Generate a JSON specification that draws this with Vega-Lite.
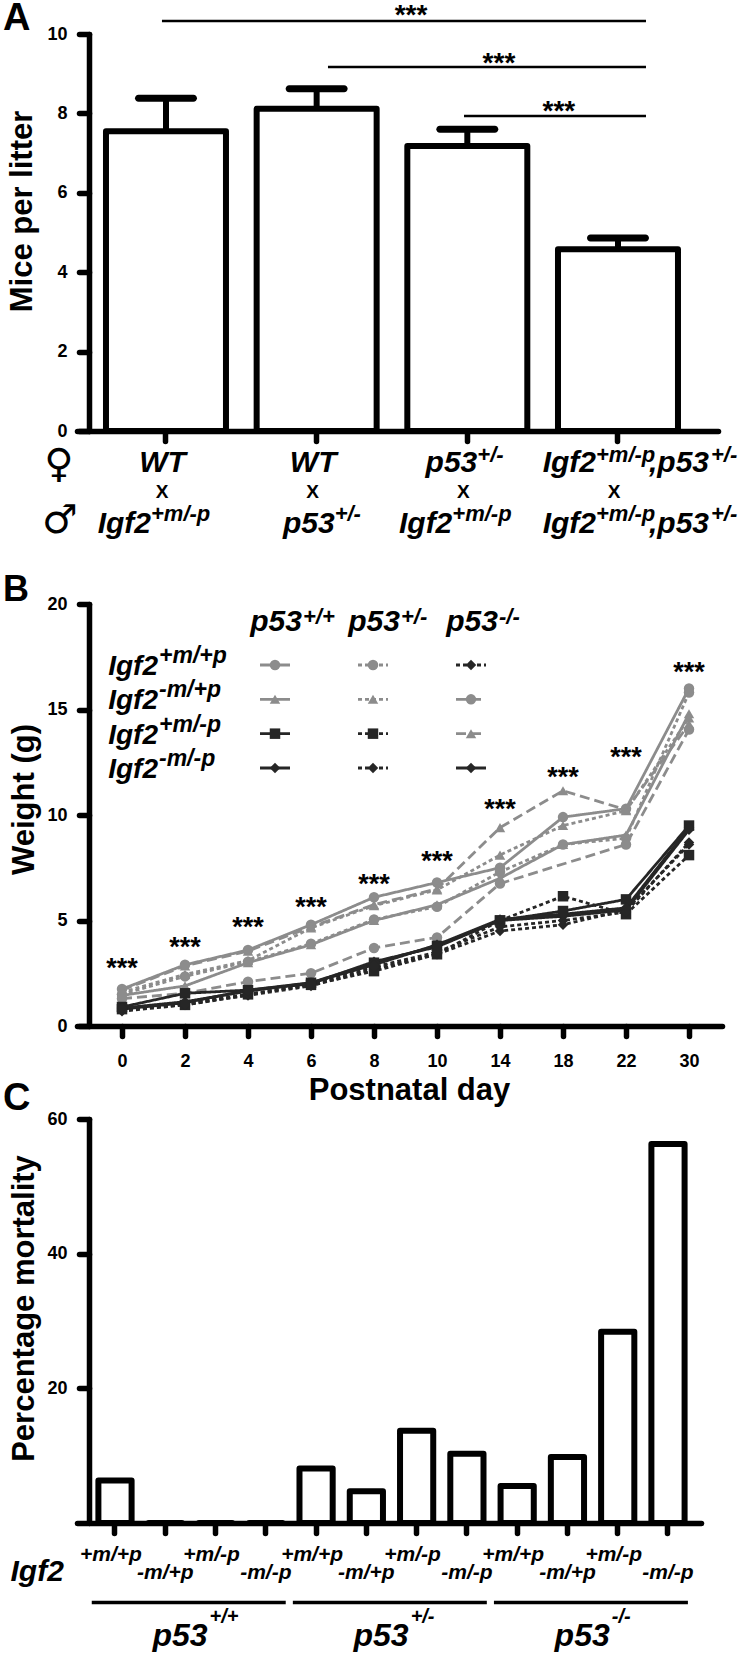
{
"$schema": "https://vega.github.io/schema/vega-lite/v6.json",
"padding": {"left": 2, "top": 0, "right": 0, "bottom": 0},
"bounds": "flush",
"spacing": 173,
"config": {
 "font": "Liberation Sans",
 "view": {"stroke": null},
 "mark": {"color": "black"},
 "text": {"color": "black", "font": "Liberation Sans", "baseline": "alphabetic"},
 "axis": {"domainColor": "black", "domainWidth": 5.5, "domainCap": "round", "tickColor": "black", "tickWidth": 5.5, "tickCap": "round", "tickSize": 10, "labelFont": "Liberation Sans", "labelFontWeight": "bold", "labelFontSize": 18, "labelColor": "black", "labelPadding": 12, "titleFont": "Liberation Sans", "titleFontWeight": "bold", "titleFontSize": 31, "titleColor": "black", "grid": false}
},
"datasets": {
 "litter": [
  {"cross": "WT x Igf2+m/-p", "mean": 7.55, "upper": 8.38},
  {"cross": "WT x p53+/-", "mean": 8.12, "upper": 8.62},
  {"cross": "p53+/- x Igf2+m/-p", "mean": 7.18, "upper": 7.6},
  {"cross": "Igf2+m/-p,p53+/- x Igf2+m/-p,p53+/-", "mean": 4.58, "upper": 4.86}
 ],
 "sig": [
  {"x1": 0.973, "x2": 4.186, "y": 10.33, "sx": 2.626, "sy": 10.655, "label": "***"},
  {"x1": 2.075, "x2": 4.186, "y": 9.17, "sx": 3.21, "sy": 9.446, "label": "***"},
  {"x1": 2.978, "x2": 4.186, "y": 7.935, "sx": 3.608, "sy": 8.237, "label": "***"}
 ],
 "alab": [
  {"cross": "WT x Igf2+m/-p", "role": "fc", "text": "WT"},
  {"cross": "WT x p53+/-", "role": "fc", "text": "WT"},
  {"cross": "p53+/- x Igf2+m/-p", "role": "fpb", "text": "p53"},
  {"cross": "p53+/- x Igf2+m/-p", "role": "fps", "text": "+/-"},
  {"cross": "Igf2+m/-p,p53+/- x Igf2+m/-p,p53+/-", "role": "f4b", "text": "Igf2"},
  {"cross": "Igf2+m/-p,p53+/- x Igf2+m/-p,p53+/-", "role": "f4s", "text": "+m/-p"},
  {"cross": "Igf2+m/-p,p53+/- x Igf2+m/-p,p53+/-", "role": "f4t", "text": ",p53"},
  {"cross": "Igf2+m/-p,p53+/- x Igf2+m/-p,p53+/-", "role": "f4u", "text": "+/-"},
  {"cross": "WT x Igf2+m/-p", "role": "mib", "text": "Igf2"},
  {"cross": "p53+/- x Igf2+m/-p", "role": "mib", "text": "Igf2"},
  {"cross": "WT x Igf2+m/-p", "role": "mis", "text": "+m/-p"},
  {"cross": "p53+/- x Igf2+m/-p", "role": "mis", "text": "+m/-p"},
  {"cross": "WT x p53+/-", "role": "mpb", "text": "p53"},
  {"cross": "WT x p53+/-", "role": "mps", "text": "+/-"},
  {"cross": "Igf2+m/-p,p53+/- x Igf2+m/-p,p53+/-", "role": "m4b", "text": "Igf2"},
  {"cross": "Igf2+m/-p,p53+/- x Igf2+m/-p,p53+/-", "role": "m4s", "text": "+m/-p"},
  {"cross": "Igf2+m/-p,p53+/- x Igf2+m/-p,p53+/-", "role": "m4t", "text": ",p53"},
  {"cross": "Igf2+m/-p,p53+/- x Igf2+m/-p,p53+/-", "role": "m4u", "text": "+/-"},
  {"cross": "WT x Igf2+m/-p", "role": "x", "text": "X"},
  {"cross": "WT x p53+/-", "role": "x", "text": "X"},
  {"cross": "p53+/- x Igf2+m/-p", "role": "x", "text": "X"},
  {"cross": "Igf2+m/-p,p53+/- x Igf2+m/-p,p53+/-", "role": "x", "text": "X"},
  {"cross": "WT x Igf2+m/-p", "role": "sf", "text": "♀"},
  {"cross": "WT x Igf2+m/-p", "role": "sm", "text": "♂"},
  {"cross": "WT x Igf2+m/-p", "role": "letter", "text": "A"}
 ],
 "weights": [
  {"s":"+/+ +m/+p","day":0,"w":1.75},{"s":"+/+ +m/+p","day":2,"w":2.9},{"s":"+/+ +m/+p","day":4,"w":3.6},{"s":"+/+ +m/+p","day":6,"w":4.8},{"s":"+/+ +m/+p","day":8,"w":6.1},{"s":"+/+ +m/+p","day":10,"w":6.8},{"s":"+/+ +m/+p","day":14,"w":7.5},{"s":"+/+ +m/+p","day":18,"w":9.9},{"s":"+/+ +m/+p","day":22,"w":10.3},{"s":"+/+ +m/+p","day":30,"w":16.0},
  {"s":"+/+ -m/+p","day":0,"w":1.45},{"s":"+/+ -m/+p","day":2,"w":1.9},{"s":"+/+ -m/+p","day":4,"w":3.0},{"s":"+/+ -m/+p","day":6,"w":3.85},{"s":"+/+ -m/+p","day":8,"w":5.0},{"s":"+/+ -m/+p","day":10,"w":5.75},{"s":"+/+ -m/+p","day":14,"w":7.0},{"s":"+/+ -m/+p","day":18,"w":8.6},{"s":"+/+ -m/+p","day":22,"w":9.05},{"s":"+/+ -m/+p","day":30,"w":14.8},
  {"s":"+/- +m/+p","day":0,"w":1.5},{"s":"+/- +m/+p","day":2,"w":2.35},{"s":"+/- +m/+p","day":4,"w":3.05},{"s":"+/- +m/+p","day":6,"w":3.9},{"s":"+/- +m/+p","day":8,"w":5.05},{"s":"+/- +m/+p","day":10,"w":5.65},{"s":"+/- +m/+p","day":14,"w":7.3},{"s":"+/- +m/+p","day":18,"w":8.6},{"s":"+/- +m/+p","day":22,"w":8.9},{"s":"+/- +m/+p","day":30,"w":15.8},
  {"s":"+/- -m/+p","day":0,"w":1.6},{"s":"+/- -m/+p","day":2,"w":2.45},{"s":"+/- -m/+p","day":4,"w":3.1},{"s":"+/- -m/+p","day":6,"w":4.65},{"s":"+/- -m/+p","day":8,"w":5.7},{"s":"+/- -m/+p","day":10,"w":6.45},{"s":"+/- -m/+p","day":14,"w":8.1},{"s":"+/- -m/+p","day":18,"w":9.5},{"s":"+/- -m/+p","day":22,"w":10.2},{"s":"+/- -m/+p","day":30,"w":14.6},
  {"s":"-/- -m/+p","day":0,"w":1.3},{"s":"-/- -m/+p","day":2,"w":1.55},{"s":"-/- -m/+p","day":4,"w":2.1},{"s":"-/- -m/+p","day":6,"w":2.5},{"s":"-/- -m/+p","day":8,"w":3.7},{"s":"-/- -m/+p","day":10,"w":4.2},{"s":"-/- -m/+p","day":14,"w":6.75},{"s":"-/- -m/+p","day":22,"w":8.6},{"s":"-/- -m/+p","day":30,"w":14.05},
  {"s":"-/- +m/-p","day":0,"w":1.7},{"s":"-/- +m/-p","day":2,"w":2.85},{"s":"-/- +m/-p","day":4,"w":3.55},{"s":"-/- +m/-p","day":6,"w":4.7},{"s":"-/- +m/-p","day":8,"w":5.75},{"s":"-/- +m/-p","day":10,"w":6.5},{"s":"-/- +m/-p","day":14,"w":9.4},{"s":"-/- +m/-p","day":18,"w":11.15},{"s":"-/- +m/-p","day":22,"w":10.25},{"s":"-/- +m/-p","day":30,"w":14.3},
  {"s":"+/+ +m/-p","day":0,"w":0.9},{"s":"+/+ +m/-p","day":2,"w":1.55},{"s":"+/+ +m/-p","day":4,"w":1.7},{"s":"+/+ +m/-p","day":6,"w":2.05},{"s":"+/+ +m/-p","day":8,"w":3.0},{"s":"+/+ +m/-p","day":10,"w":3.8},{"s":"+/+ +m/-p","day":14,"w":5.0},{"s":"+/+ +m/-p","day":18,"w":5.45},{"s":"+/+ +m/-p","day":22,"w":6.0},{"s":"+/+ +m/-p","day":30,"w":9.5},
  {"s":"+/+ -m/-p","day":0,"w":0.8},{"s":"+/+ -m/-p","day":2,"w":1.1},{"s":"+/+ -m/-p","day":4,"w":1.7},{"s":"+/+ -m/-p","day":6,"w":2.0},{"s":"+/+ -m/-p","day":8,"w":3.05},{"s":"+/+ -m/-p","day":10,"w":3.75},{"s":"+/+ -m/-p","day":14,"w":5.0},{"s":"+/+ -m/-p","day":18,"w":5.2},{"s":"+/+ -m/-p","day":22,"w":5.5},{"s":"+/+ -m/-p","day":30,"w":9.3},
  {"s":"+/- +m/-p","day":0,"w":0.8},{"s":"+/- +m/-p","day":2,"w":1.0},{"s":"+/- +m/-p","day":4,"w":1.5},{"s":"+/- +m/-p","day":6,"w":1.95},{"s":"+/- +m/-p","day":8,"w":2.6},{"s":"+/- +m/-p","day":10,"w":3.4},{"s":"+/- +m/-p","day":14,"w":5.0},{"s":"+/- +m/-p","day":18,"w":6.15},{"s":"+/- +m/-p","day":22,"w":5.3},{"s":"+/- +m/-p","day":30,"w":8.1},
  {"s":"+/- -m/-p","day":0,"w":0.7},{"s":"+/- -m/-p","day":2,"w":1.0},{"s":"+/- -m/-p","day":4,"w":1.45},{"s":"+/- -m/-p","day":6,"w":1.9},{"s":"+/- -m/-p","day":8,"w":2.7},{"s":"+/- -m/-p","day":10,"w":3.4},{"s":"+/- -m/-p","day":14,"w":4.5},{"s":"+/- -m/-p","day":18,"w":4.8},{"s":"+/- -m/-p","day":22,"w":5.5},{"s":"+/- -m/-p","day":30,"w":8.6},
  {"s":"-/- +m/+p","day":0,"w":0.75},{"s":"-/- +m/+p","day":2,"w":1.05},{"s":"-/- +m/+p","day":4,"w":1.5},{"s":"-/- +m/+p","day":6,"w":2.0},{"s":"-/- +m/+p","day":8,"w":2.8},{"s":"-/- +m/+p","day":10,"w":3.5},{"s":"-/- +m/+p","day":14,"w":4.7},{"s":"-/- +m/+p","day":18,"w":5.0},{"s":"-/- +m/+p","day":22,"w":5.4},{"s":"-/- +m/+p","day":30,"w":8.7},
  {"s":"-/- -m/-p","day":0,"w":0.85},{"s":"-/- -m/-p","day":2,"w":1.15},{"s":"-/- -m/-p","day":4,"w":1.65},{"s":"-/- -m/-p","day":6,"w":2.05},{"s":"-/- -m/-p","day":8,"w":2.9},{"s":"-/- -m/-p","day":10,"w":3.85},{"s":"-/- -m/-p","day":14,"w":5.05},{"s":"-/- -m/-p","day":18,"w":5.3},{"s":"-/- -m/-p","day":22,"w":5.6},{"s":"-/- -m/-p","day":30,"w":9.4}
 ],
 "bstars": [
  {"day": 0, "y": 3.03, "label": "***"}, {"day": 2, "y": 4.01, "label": "***"}, {"day": 4, "y": 4.96, "label": "***"}, {"day": 6, "y": 5.94, "label": "***"}, {"day": 8, "y": 7.01, "label": "***"},
  {"day": 10, "y": 8.12, "label": "***"}, {"day": 14, "y": 10.57, "label": "***"}, {"day": 18, "y": 12.07, "label": "***"}, {"day": 22, "y": 13.05, "label": "***"}, {"day": 30, "y": 17.05, "label": "***"}
 ],
 "leg": [
  {"s":"+/+ +m/+p","p53":"+/+","igf2":"+m/+p"},{"s":"+/+ -m/+p","p53":"+/+","igf2":"-m/+p"},{"s":"+/+ +m/-p","p53":"+/+","igf2":"+m/-p"},{"s":"+/+ -m/-p","p53":"+/+","igf2":"-m/-p"},
  {"s":"+/- +m/+p","p53":"+/-","igf2":"+m/+p"},{"s":"+/- -m/+p","p53":"+/-","igf2":"-m/+p"},{"s":"+/- +m/-p","p53":"+/-","igf2":"+m/-p"},{"s":"+/- -m/-p","p53":"+/-","igf2":"-m/-p"},
  {"s":"-/- +m/+p","p53":"-/-","igf2":"+m/+p"},{"s":"-/- -m/+p","p53":"-/-","igf2":"-m/+p"},{"s":"-/- +m/-p","p53":"-/-","igf2":"+m/-p"},{"s":"-/- -m/-p","p53":"-/-","igf2":"-m/-p"}
 ],
 "mort": [
  {"bar":"p53+/+ Igf2+m/+p","p53":"+/+","igf2":"+m/+p","pct":6.3},
  {"bar":"p53+/+ Igf2-m/+p","p53":"+/+","igf2":"-m/+p","pct":0},
  {"bar":"p53+/+ Igf2+m/-p","p53":"+/+","igf2":"+m/-p","pct":0},
  {"bar":"p53+/+ Igf2-m/-p","p53":"+/+","igf2":"-m/-p","pct":0},
  {"bar":"p53+/- Igf2+m/+p","p53":"+/-","igf2":"+m/+p","pct":8.1},
  {"bar":"p53+/- Igf2-m/+p","p53":"+/-","igf2":"-m/+p","pct":4.7},
  {"bar":"p53+/- Igf2+m/-p","p53":"+/-","igf2":"+m/-p","pct":13.7},
  {"bar":"p53+/- Igf2-m/-p","p53":"+/-","igf2":"-m/-p","pct":10.3},
  {"bar":"p53-/- Igf2+m/+p","p53":"-/-","igf2":"+m/+p","pct":5.5},
  {"bar":"p53-/- Igf2-m/+p","p53":"-/-","igf2":"-m/+p","pct":9.8},
  {"bar":"p53-/- Igf2+m/-p","p53":"-/-","igf2":"+m/-p","pct":28.4},
  {"bar":"p53-/- Igf2-m/-p","p53":"-/-","igf2":"-m/-p","pct":56.3}
 ],
 "groups": [
  {"first":"p53+/+ Igf2+m/+p","last":"p53+/+ Igf2-m/-p","mid":"p53+/+ Igf2+m/-p","p53":"+/+"},
  {"first":"p53+/- Igf2+m/+p","last":"p53+/- Igf2-m/-p","mid":"p53+/- Igf2+m/-p","p53":"+/-"},
  {"first":"p53-/- Igf2+m/+p","last":"p53-/- Igf2-m/-p","mid":"p53-/- Igf2+m/-p","p53":"-/-"}
 ]
},
"vconcat": [
{
 "width": 641, "height": 397,
 "layer": [
  {
   "layer": [
    {"data": {"name": "litter"},
     "mark": {"type": "bar", "fill": "white", "stroke": "black", "strokeWidth": 6, "strokeJoin": "round"},
     "encoding": {
      "x": {"field": "cross", "type": "nominal", "sort": null,
            "scale": {"domain": ["WT x Igf2+m/-p", "WT x p53+/-", "p53+/- x Igf2+m/-p", "Igf2+m/-p,p53+/- x Igf2+m/-p,p53+/-"], "paddingInner": 0.2036, "paddingOuter": 0.229, "align": 0.42},
            "axis": {"labels": false, "title": null}},
      "y": {"field": "mean", "type": "quantitative", "scale": {"domain": [0, 10], "nice": false},
            "axis": {"values": [0, 2, 4, 6, 8, 10], "title": "Mice per litter", "offset": -12, "titleX": -67, "titleY": 177, "titleBaseline": "middle"}}
     }},
    {"data": {"name": "litter"}, "mark": {"type": "rule", "strokeWidth": 6, "color": "black"},
     "encoding": {"x": {"field": "cross", "type": "nominal"}, "y": {"field": "mean", "type": "quantitative"}, "y2": {"field": "upper"}}},
    {"data": {"name": "litter"}, "mark": {"type": "tick", "orient": "horizontal", "size": 62, "thickness": 7, "cornerRadius": 3.5, "color": "black", "opacity": 1},
     "encoding": {"x": {"field": "cross", "type": "nominal"}, "y": {"field": "upper", "type": "quantitative"}}},
    {"data": {"name": "alab"}, "transform": [{"filter": "datum.role === 'fc'"}],
     "mark": {"type": "text", "align": "center", "dx": -3.5, "dy": 41, "fontSize": 30, "fontWeight": "bold", "fontStyle": "italic"},
     "encoding": {"x": {"field": "cross", "type": "nominal"}, "y": {"datum": 0}, "text": {"field": "text"}}},
    {"data": {"name": "alab"}, "transform": [{"filter": "datum.role === 'fpb'"}],
     "mark": {"type": "text", "align": "right", "dx": 10, "dy": 41, "fontSize": 30, "fontWeight": "bold", "fontStyle": "italic"},
     "encoding": {"x": {"field": "cross", "type": "nominal"}, "y": {"datum": 0}, "text": {"field": "text"}}},
    {"data": {"name": "alab"}, "transform": [{"filter": "datum.role === 'fps'"}],
     "mark": {"type": "text", "align": "left", "dx": 10, "dy": 31, "fontSize": 22, "fontWeight": "bold", "fontStyle": "italic"},
     "encoding": {"x": {"field": "cross", "type": "nominal"}, "y": {"datum": 0}, "text": {"field": "text"}}},
    {"data": {"name": "alab"}, "transform": [{"filter": "datum.role === 'f4b'"}],
     "mark": {"type": "text", "align": "right", "dx": -22, "dy": 41, "fontSize": 30, "fontWeight": "bold", "fontStyle": "italic"},
     "encoding": {"x": {"field": "cross", "type": "nominal"}, "y": {"datum": 0}, "text": {"field": "text"}}},
    {"data": {"name": "alab"}, "transform": [{"filter": "datum.role === 'f4s'"}],
     "mark": {"type": "text", "align": "left", "dx": -22, "dy": 31, "fontSize": 22, "fontWeight": "bold", "fontStyle": "italic"},
     "encoding": {"x": {"field": "cross", "type": "nominal"}, "y": {"datum": 0}, "text": {"field": "text"}}},
    {"data": {"name": "alab"}, "transform": [{"filter": "datum.role === 'f4t'"}],
     "mark": {"type": "text", "align": "left", "dx": 31, "dy": 41, "fontSize": 30, "fontWeight": "bold", "fontStyle": "italic"},
     "encoding": {"x": {"field": "cross", "type": "nominal"}, "y": {"datum": 0}, "text": {"field": "text"}}},
    {"data": {"name": "alab"}, "transform": [{"filter": "datum.role === 'f4u'"}],
     "mark": {"type": "text", "align": "left", "dx": 93, "dy": 31, "fontSize": 22, "fontWeight": "bold", "fontStyle": "italic"},
     "encoding": {"x": {"field": "cross", "type": "nominal"}, "y": {"datum": 0}, "text": {"field": "text"}}},
    {"data": {"name": "alab"}, "transform": [{"filter": "datum.role === 'mib'"}],
     "mark": {"type": "text", "align": "right", "dx": -15, "dy": 102, "fontSize": 30, "fontWeight": "bold", "fontStyle": "italic"},
     "encoding": {"x": {"field": "cross", "type": "nominal"}, "y": {"datum": 0}, "text": {"field": "text"}}},
    {"data": {"name": "alab"}, "transform": [{"filter": "datum.role === 'mis'"}],
     "mark": {"type": "text", "align": "left", "dx": -15, "dy": 90, "fontSize": 22, "fontWeight": "bold", "fontStyle": "italic"},
     "encoding": {"x": {"field": "cross", "type": "nominal"}, "y": {"datum": 0}, "text": {"field": "text"}}},
    {"data": {"name": "alab"}, "transform": [{"filter": "datum.role === 'mpb'"}],
     "mark": {"type": "text", "align": "right", "dx": 18, "dy": 102, "fontSize": 30, "fontWeight": "bold", "fontStyle": "italic"},
     "encoding": {"x": {"field": "cross", "type": "nominal"}, "y": {"datum": 0}, "text": {"field": "text"}}},
    {"data": {"name": "alab"}, "transform": [{"filter": "datum.role === 'mps'"}],
     "mark": {"type": "text", "align": "left", "dx": 18, "dy": 90, "fontSize": 22, "fontWeight": "bold", "fontStyle": "italic"},
     "encoding": {"x": {"field": "cross", "type": "nominal"}, "y": {"datum": 0}, "text": {"field": "text"}}},
    {"data": {"name": "alab"}, "transform": [{"filter": "datum.role === 'm4b'"}],
     "mark": {"type": "text", "align": "right", "dx": -22, "dy": 102, "fontSize": 30, "fontWeight": "bold", "fontStyle": "italic"},
     "encoding": {"x": {"field": "cross", "type": "nominal"}, "y": {"datum": 0}, "text": {"field": "text"}}},
    {"data": {"name": "alab"}, "transform": [{"filter": "datum.role === 'm4s'"}],
     "mark": {"type": "text", "align": "left", "dx": -22, "dy": 90, "fontSize": 22, "fontWeight": "bold", "fontStyle": "italic"},
     "encoding": {"x": {"field": "cross", "type": "nominal"}, "y": {"datum": 0}, "text": {"field": "text"}}},
    {"data": {"name": "alab"}, "transform": [{"filter": "datum.role === 'm4t'"}],
     "mark": {"type": "text", "align": "left", "dx": 31, "dy": 102, "fontSize": 30, "fontWeight": "bold", "fontStyle": "italic"},
     "encoding": {"x": {"field": "cross", "type": "nominal"}, "y": {"datum": 0}, "text": {"field": "text"}}},
    {"data": {"name": "alab"}, "transform": [{"filter": "datum.role === 'm4u'"}],
     "mark": {"type": "text", "align": "left", "dx": 93, "dy": 90, "fontSize": 22, "fontWeight": "bold", "fontStyle": "italic"},
     "encoding": {"x": {"field": "cross", "type": "nominal"}, "y": {"datum": 0}, "text": {"field": "text"}}},
    {"data": {"name": "alab"}, "transform": [{"filter": "datum.role === 'x'"}],
     "mark": {"type": "text", "align": "center", "dx": -4, "dy": 67, "fontSize": 19, "fontWeight": "bold"},
     "encoding": {"x": {"field": "cross", "type": "nominal"}, "y": {"datum": 0}, "text": {"field": "text"}}},
    {"data": {"name": "alab"}, "transform": [{"filter": "datum.role === 'sf'"}],
     "mark": {"type": "text", "align": "center", "baseline": "middle", "dx": -107, "dy": 34, "fontSize": 40, "font": "DejaVu Sans"},
     "encoding": {"x": {"field": "cross", "type": "nominal"}, "y": {"datum": 0}, "text": {"field": "text"}}},
    {"data": {"name": "alab"}, "transform": [{"filter": "datum.role === 'sm'"}],
     "mark": {"type": "text", "align": "center", "baseline": "middle", "dx": -106, "dy": 90, "fontSize": 40, "font": "DejaVu Sans"},
     "encoding": {"x": {"field": "cross", "type": "nominal"}, "y": {"datum": 0}, "text": {"field": "text"}}},
    {"data": {"name": "alab"}, "transform": [{"filter": "datum.role === 'letter'"}],
     "mark": {"type": "text", "align": "left", "baseline": "top", "dx": -163, "dy": -34, "fontSize": 38, "fontWeight": "bold"},
     "encoding": {"x": {"field": "cross", "type": "nominal"}, "y": {"datum": 10}, "text": {"field": "text"}}}
   ]
  },
  {
   "data": {"name": "sig"},
   "layer": [
    {"mark": {"type": "rule", "strokeWidth": 2.5, "color": "black"},
     "encoding": {"x": {"field": "x1", "type": "quantitative", "scale": {"domain": [0.409, 4.664], "nice": false, "zero": false}, "axis": null}, "x2": {"field": "x2"}, "y": {"field": "y", "type": "quantitative"}}},
    {"mark": {"type": "text", "fontSize": 28, "fontWeight": "bold", "dy": 16},
     "encoding": {"x": {"field": "sx", "type": "quantitative"}, "y": {"field": "sy", "type": "quantitative"}, "text": {"field": "label"}}}
   ]
  }
 ],
 "resolve": {"scale": {"x": "independent"}}
},
{
 "bounds": "flush",
 "spacing": 93,
 "vconcat": [
 {
  "width": 645, "height": 422,
  "layer": [
   {
    "layer": [
     {"data": {"name": "weights"}, "mark": {"type": "line", "strokeWidth": 2.8},
      "encoding": {
       "x": {"field": "day", "type": "ordinal", "scale": {"type": "point", "padding": 0.619, "align": 0.577},
             "axis": {"title": "Postnatal day", "labelAngle": 0, "labelPadding": 16, "titleX": 332, "titleY": 49, "titleBaseline": "top", "titleAlign": "center"}},
       "y": {"field": "w", "type": "quantitative", "scale": {"domain": [0, 20], "nice": false},
             "axis": {"values": [0, 5, 10, 15, 20], "title": "Weight (g)", "offset": -12, "titleX": -65, "titleY": 195, "titleBaseline": "middle"}},
       "color": {"field": "s", "type": "nominal", "legend": null,
                 "scale": {"domain": ["+/+ +m/+p","+/+ -m/+p","+/+ +m/-p","+/+ -m/-p","+/- +m/+p","+/- -m/+p","+/- +m/-p","+/- -m/-p","-/- +m/+p","-/- -m/+p","-/- +m/-p","-/- -m/-p"],
                           "range": ["#8c8c8c","#8c8c8c","#262626","#262626","#8c8c8c","#8c8c8c","#262626","#262626","#262626","#8c8c8c","#8c8c8c","#262626"]}},
       "strokeDash": {"field": "s", "type": "nominal", "legend": null,
                 "scale": {"domain": ["+/+ +m/+p","+/+ -m/+p","+/+ +m/-p","+/+ -m/-p","+/- +m/+p","+/- -m/+p","+/- +m/-p","+/- -m/-p","-/- +m/+p","-/- -m/+p","-/- +m/-p","-/- -m/-p"],
                           "range": [[1,0],[1,0],[1,0],[1,0],[4,3],[4,3],[4,3],[4,3],[4,3],[10,5],[10,5],[1,0]]}}
      }},
     {"data": {"name": "weights"}, "mark": {"type": "point", "filled": true, "size": 110, "opacity": 1},
      "encoding": {
       "x": {"field": "day", "type": "ordinal"},
       "y": {"field": "w", "type": "quantitative"},
       "color": {"field": "s", "type": "nominal", "legend": null},
       "shape": {"field": "s", "type": "nominal", "legend": null,
                 "scale": {"domain": ["+/+ +m/+p","+/+ -m/+p","+/+ +m/-p","+/+ -m/-p","+/- +m/+p","+/- -m/+p","+/- +m/-p","+/- -m/-p","-/- +m/+p","-/- -m/+p","-/- +m/-p","-/- -m/-p"],
                           "range": ["circle","triangle-up","square","diamond","circle","triangle-up","square","diamond","diamond","circle","triangle-up","diamond"]}}
      }},
     {"data": {"name": "bstars"}, "mark": {"type": "text", "fontSize": 27, "fontWeight": "bold", "dy": 15},
      "encoding": {"x": {"field": "day", "type": "ordinal"}, "y": {"field": "y", "type": "quantitative"}, "text": {"field": "label"}}},
     {"data": {"values": [{"day": 0, "t": "B"}]}, "mark": {"type": "text", "align": "left", "dx": -119, "dy": -3, "fontSize": 36, "fontWeight": "bold"},
      "encoding": {"x": {"field": "day", "type": "ordinal"}, "y": {"datum": 20}, "text": {"field": "t"}}}
    ]
   },
   {
    "data": {"name": "leg"},
    "layer": [
     {"mark": {"type": "rule", "strokeWidth": 2.8, "xOffset": -15, "x2Offset": 15},
      "encoding": {
       "x": {"field": "p53", "type": "ordinal", "scale": {"type": "point", "domain": ["+/+","+/-","-/-"], "range": [198, 394], "padding": 0}, "axis": null},
       "x2": {"field": "p53"},
       "y": {"field": "igf2", "type": "ordinal", "scale": {"type": "point", "domain": ["+m/+p","-m/+p","+m/-p","-m/-p"], "range": [61, 164], "padding": 0}, "axis": null},
       "color": {"field": "s", "type": "nominal", "legend": null},
       "strokeDash": {"field": "s", "type": "nominal", "legend": null}
      }},
     {"mark": {"type": "point", "filled": true, "size": 110, "opacity": 1},
      "encoding": {
       "x": {"field": "p53", "type": "ordinal"},
       "y": {"field": "igf2", "type": "ordinal"},
       "color": {"field": "s", "type": "nominal", "legend": null},
       "shape": {"field": "s", "type": "nominal", "legend": null}
      }},
     {"transform": [{"filter": "datum.igf2 === '+m/+p'"}],
      "mark": {"type": "text", "text": "p53", "align": "right", "dx": 27, "dy": -34, "fontSize": 30, "fontWeight": "bold", "fontStyle": "italic"},
      "encoding": {"x": {"field": "p53", "type": "ordinal"}, "y": {"field": "igf2", "type": "ordinal"}}},
     {"transform": [{"filter": "datum.igf2 === '+m/+p'"}],
      "mark": {"type": "text", "align": "left", "dx": 28, "dy": -41, "fontSize": 22, "fontWeight": "bold", "fontStyle": "italic"},
      "encoding": {"x": {"field": "p53", "type": "ordinal"}, "y": {"field": "igf2", "type": "ordinal"}, "text": {"field": "p53"}}},
     {"transform": [{"filter": "datum.p53 === '+/+'"}],
      "mark": {"type": "text", "text": "Igf2", "align": "right", "dx": -117, "dy": 10, "fontSize": 28, "fontWeight": "bold", "fontStyle": "italic"},
      "encoding": {"x": {"field": "p53", "type": "ordinal"}, "y": {"field": "igf2", "type": "ordinal"}}},
     {"transform": [{"filter": "datum.p53 === '+/+'"}],
      "mark": {"type": "text", "align": "left", "dx": -116, "dy": -2, "fontSize": 23, "fontWeight": "bold", "fontStyle": "italic"},
      "encoding": {"x": {"field": "p53", "type": "ordinal"}, "y": {"field": "igf2", "type": "ordinal"}, "text": {"field": "igf2"}}}
    ]
   }
  ],
  "resolve": {"scale": {"x": "independent", "y": "independent"}}
 },
 {
  "width": 624, "height": 404,
  "layer": [
   {"data": {"name": "mort"},
    "mark": {"type": "bar", "fill": "white", "stroke": "black", "strokeWidth": 6, "strokeJoin": "round"},
    "encoding": {
     "x": {"field": "bar", "type": "nominal", "sort": null,
           "scale": {"domain": ["p53+/+ Igf2+m/+p","p53+/+ Igf2-m/+p","p53+/+ Igf2+m/-p","p53+/+ Igf2-m/-p","p53+/- Igf2+m/+p","p53+/- Igf2-m/+p","p53+/- Igf2+m/-p","p53+/- Igf2-m/-p","p53-/- Igf2+m/+p","p53-/- Igf2-m/+p","p53-/- Igf2+m/-p","p53-/- Igf2-m/-p"], "paddingInner": 0.3396, "paddingOuter": 0.376, "align": 0.566},
           "axis": {"labels": false, "title": null}},
     "y": {"field": "pct", "type": "quantitative", "scale": {"domain": [0, 60], "nice": false},
           "axis": {"values": [20, 40, 60], "title": "Percentage mortality", "offset": -12, "titleX": -65, "titleY": 189, "titleBaseline": "middle"}}
    }},
   {"data": {"name": "mort"}, "transform": [{"filter": "substring(datum.igf2, 0, 1) === '+'"}],
    "mark": {"type": "text", "align": "center", "dx": -4, "dy": 37.5, "fontSize": 21, "fontWeight": "bold", "fontStyle": "italic"},
    "encoding": {"x": {"field": "bar", "type": "nominal"}, "y": {"datum": 0}, "text": {"field": "igf2"}}},
   {"data": {"name": "mort"}, "transform": [{"filter": "substring(datum.igf2, 0, 1) === '-'"}],
    "mark": {"type": "text", "align": "center", "dx": 0, "dy": 55.5, "fontSize": 21, "fontWeight": "bold", "fontStyle": "italic"},
    "encoding": {"x": {"field": "bar", "type": "nominal"}, "y": {"datum": 0}, "text": {"field": "igf2"}}},
   {"data": {"values": [{"bar": "p53+/+ Igf2+m/+p", "t": "Igf2"}]},
    "mark": {"type": "text", "align": "left", "dx": -104.5, "dy": 57.5, "fontSize": 30, "fontWeight": "bold", "fontStyle": "italic"},
    "encoding": {"x": {"field": "bar", "type": "nominal"}, "y": {"datum": 0}, "text": {"field": "t"}}},
   {"data": {"values": [{"bar": "p53+/+ Igf2+m/+p", "t": "C"}]},
    "mark": {"type": "text", "align": "left", "dx": -112, "dy": -9, "fontSize": 38, "fontWeight": "bold"},
    "encoding": {"x": {"field": "bar", "type": "nominal"}, "y": {"datum": 60}, "text": {"field": "t"}}},
   {"data": {"name": "groups"},
    "mark": {"type": "rule", "strokeWidth": 3.5, "color": "black", "yOffset": 79.5},
    "encoding": {"x": {"field": "first", "type": "nominal", "bandPosition": -0.2}, "x2": {"field": "last", "bandPosition": 1.1}, "y": {"datum": 0}}},
   {"data": {"name": "groups"},
    "mark": {"type": "text", "text": "p53", "align": "right", "dx": -8, "dy": 122.5, "fontSize": 32, "fontWeight": "bold", "fontStyle": "italic"},
    "encoding": {"x": {"field": "mid", "type": "nominal"}, "y": {"datum": 0}}},
   {"data": {"name": "groups"},
    "mark": {"type": "text", "align": "left", "dx": -6, "dy": 100, "fontSize": 20, "fontWeight": "bold", "fontStyle": "italic"},
    "encoding": {"x": {"field": "mid", "type": "nominal"}, "y": {"datum": 0}, "text": {"field": "p53"}}}
  ]
 }
 ]
}
]
}
